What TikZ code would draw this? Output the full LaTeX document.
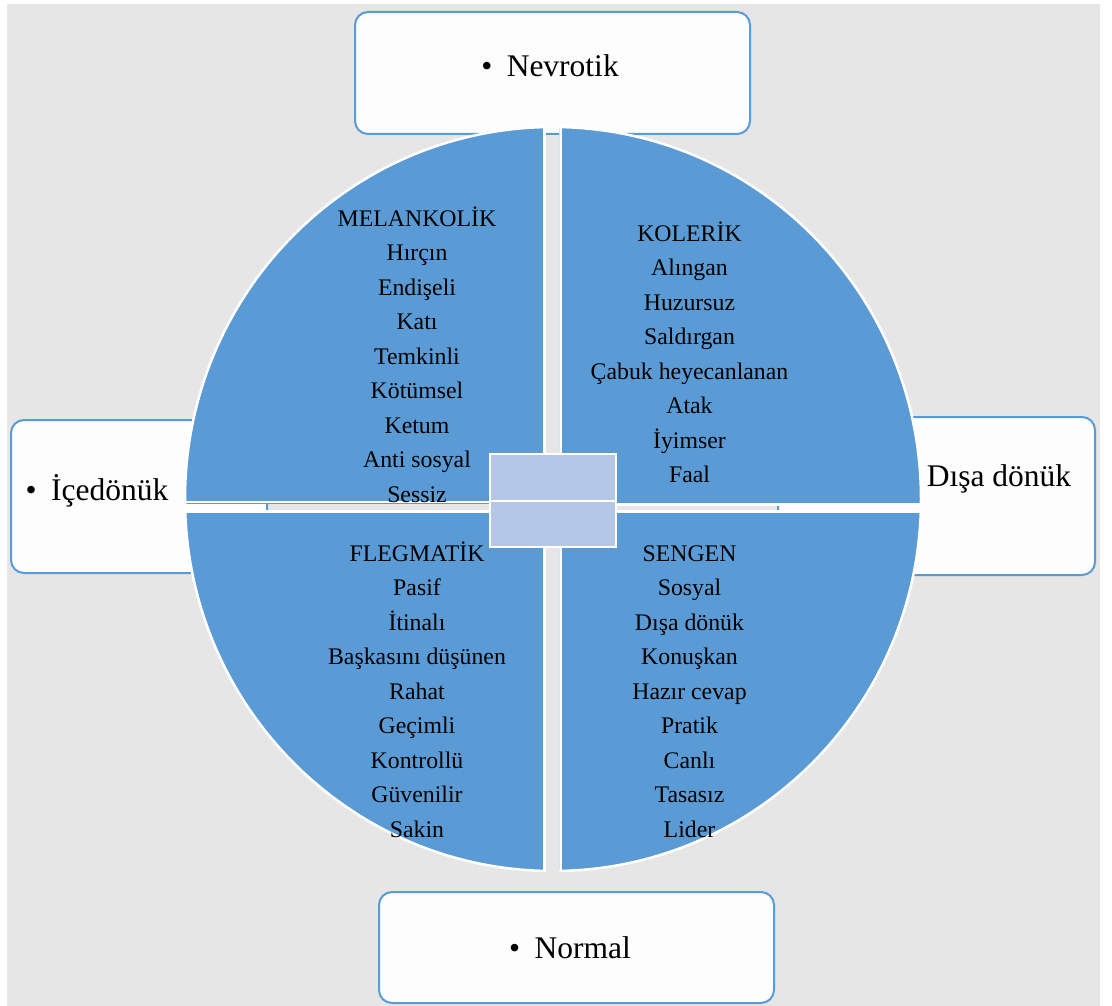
\documentclass[tikz,border=0pt]{standalone}
\usepackage{fontspec}
\setmainfont{Liberation Serif}
\definecolor{pieblue}{HTML}{5B9BD5}
\definecolor{hubblue}{HTML}{B4C7E7}
\definecolor{pagegray}{HTML}{E6E6E6}
\definecolor{boxfill}{HTML}{FDFDFD}

% one quarter of the temperament disc: #1 = clip rectangle, #2 = straight white edges
\newcommand\piequarter[2]{%
  \begin{scope}
    \clip #1;
    \fill[pieblue] (553,499) ellipse [x radius=368pt, y radius=372pt];
    \begin{scope}
      \clip (553,499) ellipse [x radius=368pt, y radius=372pt];
      \draw[white, line width=2.5pt] #2;
    \end{scope}
    \draw[white, line width=2.5pt] (553,499) ellipse [x radius=368pt, y radius=372pt];
  \end{scope}}

\begin{document}
\begin{tikzpicture}[x=1pt, y=-1pt,
  axisbox/.style={draw=pieblue, line width=2pt, fill=boxfill, rounded corners=13pt, inner sep=0pt},
  hub/.style={draw=white, line width=2pt, fill=hubblue, minimum width=126pt, inner sep=0pt},
  qtext/.style={font=\fontsize{23.8}{28}\selectfont, anchor=base, inner sep=0pt},
  axistext/.style={font=\fontsize{31.5}{36}\selectfont, anchor=base, inner sep=0pt}]
\useasboundingbox (0,0) rectangle (1112,1006);

% page
\fill[white] (0,0) rectangle (1112,1006);
\fill[pagegray] (7,4) rectangle (1100,1006);

% axis boxes
\node[axisbox, minimum width=395pt, minimum height=122pt] (nevrotik) at (552.5,73) {};
\node[axisbox, minimum width=395pt, minimum height=111pt] (normal) at (576.5,947.5) {};
\node[axisbox, minimum width=256pt, minimum height=153pt] (icedonuk) at (139,496.5) {};
\node[axisbox, minimum width=317pt, minimum height=158pt] (disadonuk) at (936.5,496) {};

% four quarters of the disc
\piequarter{(0,0) rectangle (545.75,503.25)}{(544.5,0) -- (544.5,502) -- (0,502)}
\piequarter{(559.25,0) rectangle (1112,505.75)}{(560.5,0) -- (560.5,504.5) -- (1112,504.5)}
\piequarter{(0,510.25) rectangle (545.75,1006)}{(544.5,1006) -- (544.5,511.5) -- (0,511.5)}
\piequarter{(559.25,510.25) rectangle (1112,1006)}{(560.5,1006) -- (560.5,511.5) -- (1112,511.5)}

% centre hub
\node[hub, minimum height=47pt] (hubtop) at (553,477.5) {};
\node[hub, minimum height=46pt] (hubbottom) at (553,524) {};

% axis labels
\node[axistext] (tnevrotik) at (550,77) {•\hspace{14.5pt}Nevrotik};
\node[axistext] (tnormal) at (570,958) {•\hspace{14.5pt}Normal};
\node[axistext] (ticedonuk) at (97,500) {•\hspace{14.5pt}İçedönük};
\node[axistext] (tdisadonuk) at (999,486) {Dışa dönük};

% temperament lists
\foreach \w [count=\i] in {MELANKOLİK, Hırçın, Endişeli, Katı, Temkinli, Kötümsel, Ketum, Anti sosyal, Sessiz}
  \node[qtext] (mel\i) at (417,{226+34.5*(\i-1)}) {\w};
\foreach \w [count=\i] in {KOLERİK, Alıngan, Huzursuz, Saldırgan, Çabuk heyecanlanan, Atak, İyimser, Faal}
  \node[qtext] (kol\i) at (689.5,{241+34.5*(\i-1)}) {\w};
\foreach \w [count=\i] in {FLEGMATİK, Pasif, İtinalı, Başkasını düşünen, Rahat, Geçimli, Kontrollü, Güvenilir, Sakin}
  \node[qtext] (fle\i) at (417,{561+34.5*(\i-1)}) {\w};
\foreach \w [count=\i] in {SENGEN, Sosyal, Dışa dönük, Konuşkan, Hazır cevap, Pratik, Canlı, Tasasız, Lider}
  \node[qtext] (sen\i) at (689.5,{561+34.5*(\i-1)}) {\w};
\end{tikzpicture}
\end{document}
